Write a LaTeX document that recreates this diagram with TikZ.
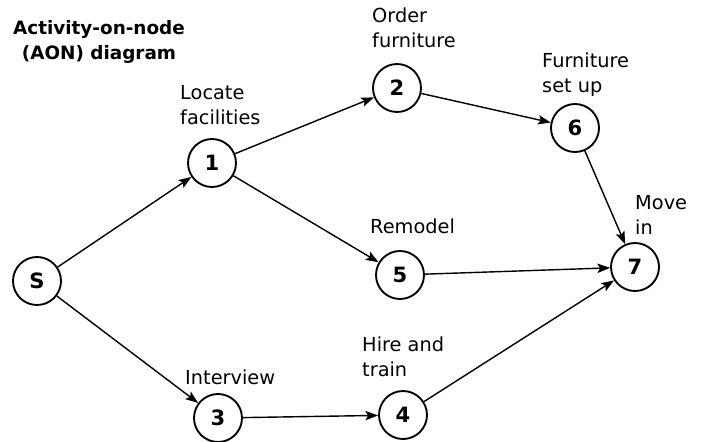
\documentclass[tikz,border=0pt]{standalone}
\usepackage{fontspec}
\setmainfont{DejaVu Sans}
\usetikzlibrary{arrows.meta,positioning}

\begin{document}
\begin{tikzpicture}[x=0.03cm, y=-0.03cm]
\tikzstyle{act} = [draw, circle, line width=1.6pt, minimum size=1.44cm, inner sep=0pt, font=\fontsize{18}{20}\selectfont\bfseries]
\tikzstyle{lbl} = [anchor=north west, inner sep=0pt, align=left, font=\fontsize{16.5}{21.3}\selectfont]
\tikzstyle{link} = [line width=1.2pt, -{Stealth[length=3.8mm, width=2.8mm, inset=0.8mm]}]

\useasboundingbox (0,0) rectangle (703,441);

\node[anchor=north, inner sep=0pt, align=center, font=\fontsize{15.7}{21.3}\selectfont\bfseries] (title) at (99,20) {Activity-on-node\\(AON) diagram};

\node[act] (s) at (37,281) {S};
\node[act] (n1) at (212,163) {1};
\node[act] (n2) at (397,88) {2};
\node[act] (n6) at (575,128) {6};
\node[act] (n5) at (400,275) {5};
\node[act] (n7) at (635,267) {7};
\node[act] (n3) at (218,418) {3};
\node[act] (n4) at (403,415) {4};

\node[lbl] (l1) at (180,85) {Locate\\facilities};
\node[lbl] (l2) at (372,8) {Order\\furniture};
\node[lbl] (l6) at (542,53) {Furniture\\set up};
\node[lbl] (l7) at (635,195) {Move\\in};
\node[lbl] (l5) at (370,219) {Remodel};
\node[lbl] (l4) at (362,337) {Hire and\\train};
\node[lbl] (l3) at (185,370) {Interview};

\draw[link] (s) -- (n1);
\draw[link] (s) -- (n3);
\draw[link] (n1) -- (n2);
\draw[link] (n1) -- (n5);
\draw[link] (n2) -- (n6);
\draw[link] (n6) -- (n7);
\draw[link] (n5) -- (n7);
\draw[link] (n3) -- (n4);
\draw[link] (n4) -- (n7);
\end{tikzpicture}
\end{document}
